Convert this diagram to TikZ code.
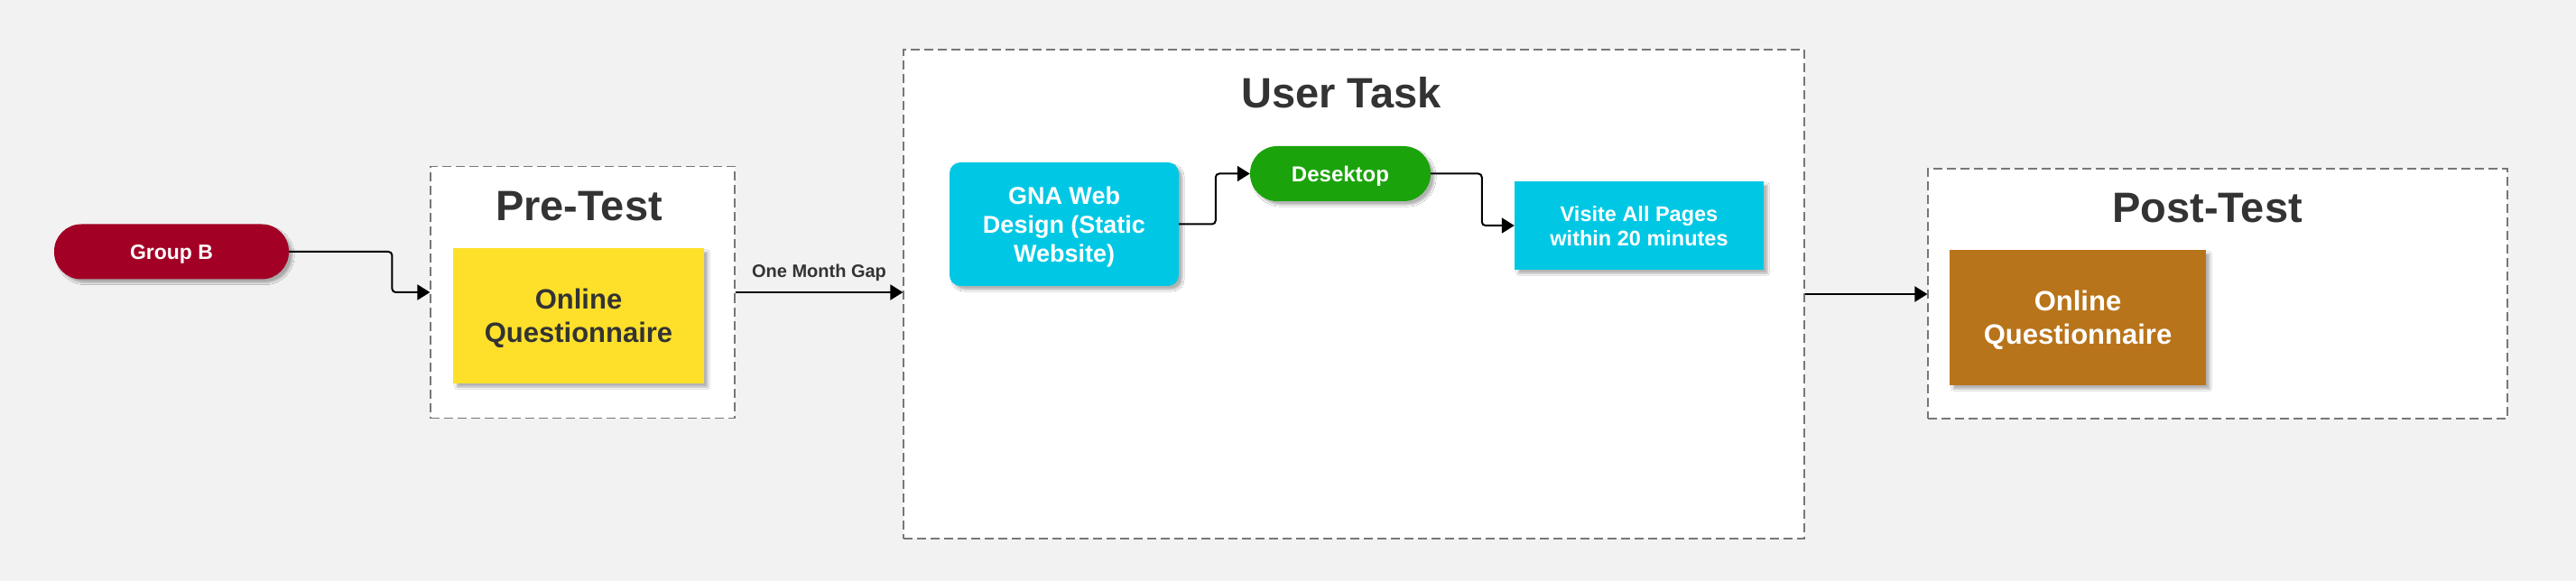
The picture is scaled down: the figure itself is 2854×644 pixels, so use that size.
\documentclass[tikz,border=0pt]{standalone}
\usepackage{fontspec}
\setmainfont{Liberation Sans}
\usetikzlibrary{arrows.meta,shadows.blur}
\definecolor{bgc}{HTML}{F2F2F2}
\definecolor{txtdark}{HTML}{333333}
\definecolor{dashc}{HTML}{777777}
\definecolor{crimsonc}{HTML}{A20025}
\definecolor{yellowc}{HTML}{FEE02B}
\definecolor{cyanc}{HTML}{00C8E4}
\definecolor{greenc}{HTML}{1BA30C}
\definecolor{brownc}{HTML}{B8741A}
\newcommand{\myfs}[2]{\fontsize{#1}{#2}\selectfont\bfseries}
\tikzset{
  container/.style={draw=dashc, fill=white, line width=1.2pt, dash pattern=on 10pt off 5pt, inner sep=0pt},
  shad/.style={blur shadow={shadow xshift=4pt, shadow yshift=-4pt, shadow blur steps=6, shadow opacity=30}},
  boxnode/.style={shad, inner sep=0pt, align=center, text depth=0pt},
  title/.style={anchor=base, text=txtdark, font=\myfs{47}{56}, inner sep=0pt},
  arr/.style={line width=2pt, -{Triangle[length=14pt,width=17pt]}, rounded corners=4pt},
}
\begin{document}
\begin{tikzpicture}[x=1pt,y=-1pt]
\useasboundingbox (0,0) rectangle (2854,644);
\fill[bgc] (0,0) rectangle (2854,644);

% containers
\node[container, minimum width=337pt, minimum height=279pt] (pre) at (645.5,324) {};
\node[container, minimum width=998pt, minimum height=542pt] (ut) at (1500,326) {};
\node[container, minimum width=642pt, minimum height=277pt] (post) at (2457,325.5) {};

% titles
\node[title] (pretitle) at (641.5,245) {Pre-Test};
\node[title] (uttitle) at (1486,120) {User Task};
\node[title] (posttitle) at (2445.5,247) {Post-Test};

% nodes
\node[boxnode, fill=crimsonc, text=white, rounded corners=30pt, minimum width=260pt, minimum height=61pt, font=\myfs{23}{28}] (gb) at (190,279) {Group B};
\node[boxnode, fill=yellowc, text=txtdark, minimum width=278pt, minimum height=150pt, font=\myfs{31}{37}] (q1) at (641,350) {Online\\Questionnaire};
\node[boxnode, fill=cyanc, text=white, rounded corners=12pt, minimum width=254pt, minimum height=137pt, font=\myfs{27}{32}] (gna) at (1179,248.5) {GNA Web\\Design (Static\\Website)};
\node[boxnode, fill=greenc, text=white, rounded corners=30pt, minimum width=200pt, minimum height=61pt, font=\myfs{24}{28}] (desk) at (1485,192.5) {Desektop};
\node[boxnode, fill=cyanc, text=white, minimum width=276pt, minimum height=98pt, font=\myfs{23.5}{27}] (vis) at (1816,250) {Visite All Pages\\within 20 minutes};
\node[boxnode, fill=brownc, text=white, minimum width=284pt, minimum height=150pt, font=\myfs{31}{37}] (q2) at (2302,352) {Online\\Questionnaire};

% connectors
\draw[arr] (gb.east) -| ([xshift=-42pt]pre.west) -- (pre.west);
\draw[arr] (pre.east) -- node[above=11pt, text=txtdark, font=\myfs{20}{24}, inner sep=0pt] (gap) {One Month Gap} (pre.east -| ut.west);
\draw[arr] (gna.east) -| ([xshift=-38pt]desk.west) -- (desk.west);
\draw[arr] (desk.east) -| ([xshift=-36pt]vis.west) -- (vis.west);
\draw[arr] (ut.east) -- (ut.east -| post.west);
\end{tikzpicture}
\end{document}
